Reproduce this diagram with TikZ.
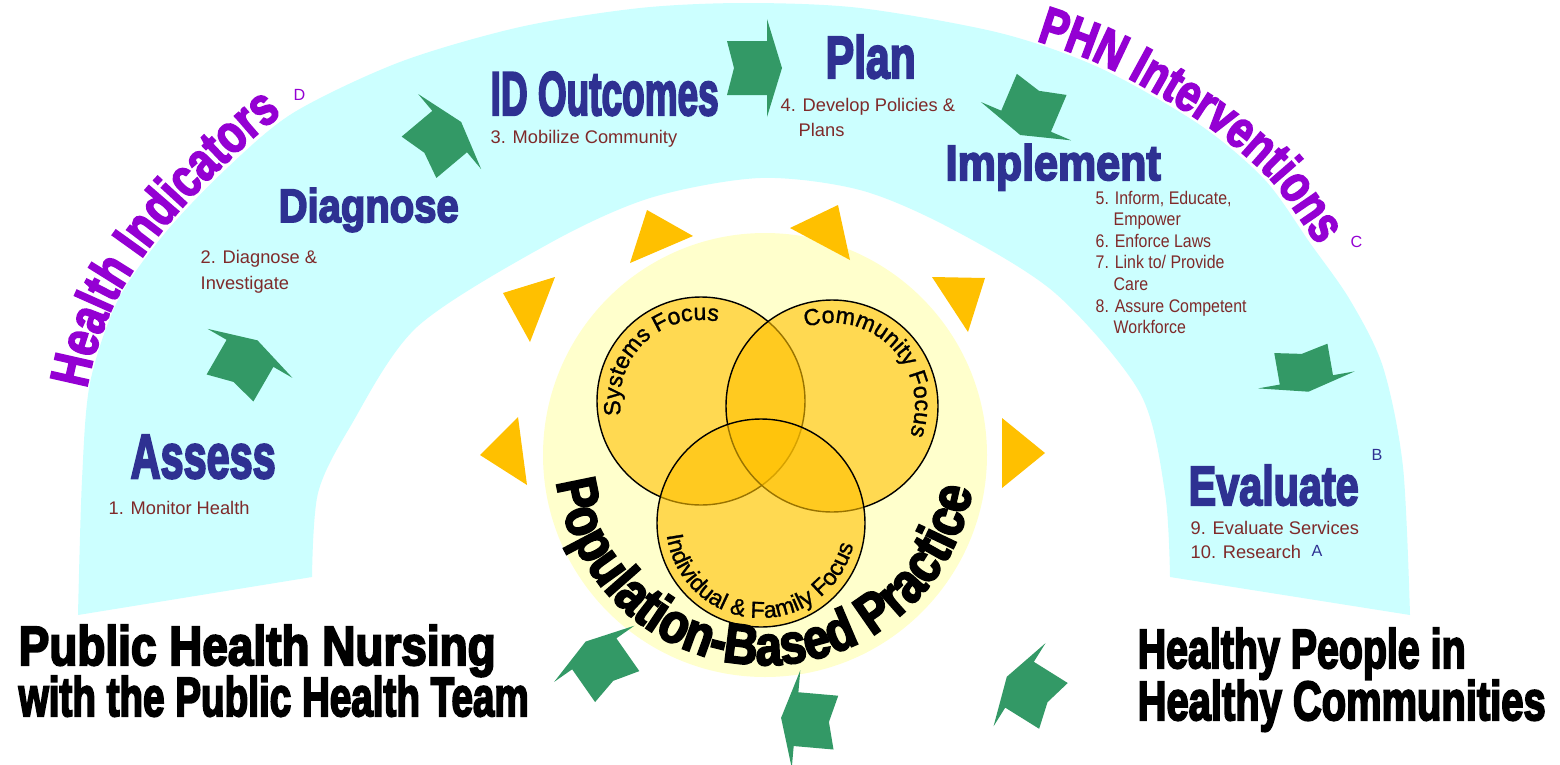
\documentclass[tikz,border=0pt]{standalone}
\usepackage{fontspec}
\usepackage{graphicx}
\setmainfont{Liberation Sans}
\newfontfamily\hv{Liberation Sans}[BoldFeatures={FakeBold=4}]
\newfontfamily\hvC{Liberation Sans}[BoldFeatures={FakeBold=3,FakeStretch=0.78}]
\newfontfamily\hvP{Liberation Sans}[BoldFeatures={FakeBold=3.5,FakeStretch=0.84}]
\newfontfamily\vt{Liberation Sans}[FakeBold=1.2]
\newfontfamily\nrw{Liberation Sans}[FakeStretch=0.87]
\usetikzlibrary{decorations.text}
\definecolor{bandcyan}{HTML}{CCFFFF}
\definecolor{paleyel}{HTML}{FFFFCC}
\definecolor{venngold}{HTML}{FFC000}
\definecolor{trigold}{HTML}{FFC000}
\definecolor{arrowgreen}{HTML}{339966}
\definecolor{titleblue}{HTML}{2E3192}
\definecolor{purp}{HTML}{9400D3}
\definecolor{maroon}{HTML}{7F2A2A}
\newcommand{\fitt}[3]{\resizebox{#1}{#2}{\hv\bfseries #3}}
\tikzset{
  bluetitle/.style={anchor=base west, inner sep=0pt, text=titleblue},
  blacktitle/.style={anchor=base west, inner sep=0pt, text=black},
  smalltxt/.style={anchor=base west, inner sep=0pt, text=maroon, font={\fontsize{5.2}{6}\selectfont}},
  narrowtxt/.style={anchor=base west, inner sep=0pt, text=maroon, font={\nrw\fontsize{5.2}{6}\selectfont}},
  marktxt/.style={anchor=base west, inner sep=0pt, font={\fontsize{4.6}{5}\selectfont}},
  tri/.style={fill=trigold},
  venn/.style={fill=venngold, fill opacity=0.6, draw=black, draw opacity=1, line width=0.4pt},
  garrow/.pic={
    \fill[arrowgreen] (-0.30cm,0.27cm) -- (0.1cm,0.27cm) -- (0.1cm,0.49cm) -- (0.25cm,0cm)
      -- (0.1cm,-0.49cm) -- (0.1cm,-0.27cm) -- (-0.30cm,-0.27cm) -- (-0.23cm,0cm) -- cycle;
  }
}
\begin{document}
\begin{tikzpicture}[x=0.1mm, y=-0.1mm]
\useasboundingbox (0,0) rectangle (1560,764);
\fill[white] (0,0) rectangle (1560,764);

% cyan band
\fill[bandcyan] plot[smooth] coordinates {(78,615) (82,480) (90,383) (118,300) (165,233) (225,170) (293,113) (400,62) (520,27) (640,8) (745,3) (860,8) (1000,33) (1100,68) (1200,125) (1265,180) (1310,243) (1350,300) (1383,367) (1403,467) (1410,615)}
  -- plot[smooth] coordinates {(1170,577) (1165,493) (1140,393) (1055,293) (950,228) (860,190) (760,178) (650,198) (550,243) (417,327) (350,427) (318,493) (312,577)} -- cycle;

% curved purple labels
\path[decorate, decoration={text along path, text align=center,
  text={|\hvC\bfseries\fontsize{15.5}{15.5}\selectfont\color{purp}|Health Indicators}}]
  plot[smooth] coordinates {(79,520) (80,500) (88,383) (116,300) (163,230) (223,166) (292,108) (400,56)};
\path[decorate, decoration={text along path, text align=center,
  text={|\hvC\bfseries\fontsize{15}{15}\selectfont\color{purp}|PHN Interventions}}]
  plot[smooth] coordinates {(900,8) (1000,30) (1100,64) (1200,121) (1268,177) (1315,241) (1355,300) (1388,367)};

% pale circle and Venn
\fill[paleyel] (765,455) circle[radius=222];
\filldraw[venn] (701,401) circle[radius=104];
\filldraw[venn] (832,406) circle[radius=106];
\filldraw[venn] (761,523) circle[radius=104];

\path[decorate, decoration={text along path, text align=center,
  text={|\vt\fontsize{6.6}{7}\selectfont|Systems Focus}}]
  ([shift={(701,401)}]204:0.81cm) arc[start angle=204, end angle=64, radius=0.81cm];
\path[decorate, decoration={text along path, text align=center,
  text={|\vt\fontsize{6.6}{7}\selectfont|Community Focus}}]
  ([shift={(832,406)}]114:0.83cm) arc[start angle=114, end angle=-26, radius=0.83cm];
\path[decorate, decoration={text along path, text align=center,
  text={|\vt\fontsize{6.6}{7}\selectfont|Individual {\&} Family Focus}}]
  ([shift={(761,523)}]180:0.95cm) arc[start angle=180, end angle=354, radius=0.95cm];
\path[decorate, decoration={text along path, text align=center,
  text={|\hvP\bfseries\fontsize{16}{16}\selectfont|Population-Based Practice}}]
  ([shift={(765,455)}]181:2.10cm) arc[start angle=181, end angle=357, radius=2.10cm];

% yellow triangles
\fill[tri] (647,210) -- (693,236) -- (630,263) -- cycle;
\fill[tri] (790,228) -- (838,205) -- (850,260) -- cycle;
\fill[tri] (503,293) -- (555,277) -- (530,342) -- cycle;
\fill[tri] (932,277) -- (985,278) -- (968,332) -- cycle;
\fill[tri] (480,455) -- (518,417) -- (527,485) -- cycle;
\fill[tri] (1002,418) -- (1045,453) -- (1002,488) -- cycle;

% green arrows
\pic[rotate=60] at (245,362) {garrow};
\pic[rotate=40] at (442,138) {garrow};
\pic[rotate=0] at (757,68) {garrow};
\pic[rotate=-113] at (1030,112) {garrow};
\pic[rotate=-80, xscale=0.8] at (1305,372) {garrow};
\pic[rotate=125] at (600,662) {garrow};
\pic[rotate=175] at (806,720) {garrow};
\pic[rotate=148] at (1028,690) {garrow};

% blue titles
\node[bluetitle] (assess) at (130,478) {\fitt{1.45cm}{0.43cm}{Assess}};
\node[bluetitle] (diagnose) at (278,222) {\fitt{1.80cm}{0.34cm}{Diagnose}};
\node[bluetitle] (idout) at (490,115) {\fitt{2.28cm}{0.43cm}{ID Outcomes}};
\node[bluetitle] (plan) at (825,78) {\fitt{0.90cm}{0.43cm}{Plan}};
\node[bluetitle] (implement) at (945,180) {\fitt{2.15cm}{0.36cm}{Implement}};
\node[bluetitle] (evaluate) at (1188,505) {\fitt{1.70cm}{0.40cm}{Evaluate}};

% small texts
\node[smalltxt] (t1) at (108,514) {1. Monitor Health};
\node[smalltxt] (t2a) at (200,263) {2. Diagnose \&};
\node[smalltxt] (t2b) at (200,289) {Investigate};
\node[smalltxt] (t3) at (490,143) {3. Mobilize Community};
\node[smalltxt] (t4a) at (780,111) {4. Develop Policies \&};
\node[smalltxt] (t4b) at (798,136) {Plans};
\node[narrowtxt] (t5a) at (1095,204) {5. Inform, Educate,};
\node[narrowtxt] (t5b) at (1113,225) {Empower};
\node[narrowtxt] (t6) at (1095,247) {6. Enforce Laws};
\node[narrowtxt] (t7a) at (1095,268) {7. Link to/ Provide};
\node[narrowtxt] (t7b) at (1113,290) {Care};
\node[narrowtxt] (t8a) at (1095,312) {8. Assure Competent};
\node[narrowtxt] (t8b) at (1113,333) {Workforce};
\node[smalltxt] (t9) at (1190,534) {9. Evaluate Services};
\node[smalltxt] (t10) at (1190,558) {10. Research};

% reference marks
\node[marktxt, text=purp] (mD) at (293,100) {D};
\node[marktxt, text=purp] (mC) at (1350,247) {C};
\node[marktxt, text=titleblue] (mB) at (1371,460) {B};
\node[marktxt, text=titleblue] (mA) at (1311,556) {A};

% black titles
\node[blacktitle] (pub1) at (18,665) {\fitt{4.77cm}{0.40cm}{Public Health Nursing}};
\node[blacktitle] (pub2) at (18,716) {\fitt{5.10cm}{0.40cm}{with the Public Health Team}};
\node[blacktitle] (hp1) at (1137,668) {\fitt{3.28cm}{0.40cm}{Healthy People in}};
\node[blacktitle] (hp2) at (1137,720) {\fitt{4.08cm}{0.40cm}{Healthy Communities}};
\end{tikzpicture}
\end{document}
